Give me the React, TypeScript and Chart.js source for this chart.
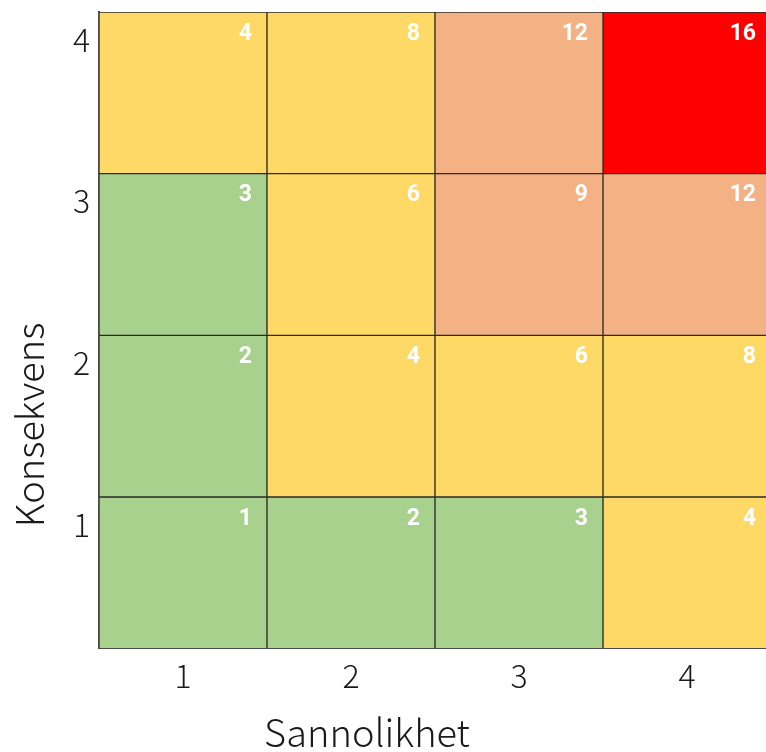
import React, { useEffect, useRef } from "react";
import { Chart, registerables } from "chart.js";

Chart.register(...registerables);

// Sannolikhet (x) and Konsekvens (y) categories
const likelihood = [1, 2, 3, 4];
const consequence = [1, 2, 3, 4];
const xTickLabels = ["1", "2", "3", "4"];
const yTickLabels = ["1", "2", "3", "4"];
// risk value per cell, rows = consequence 1..4, columns = likelihood 1..4
const riskRow1 = [1, 2, 3, 4];
const riskRow2 = [2, 4, 6, 8];
const riskRow3 = [3, 6, 9, 12];
const riskRow4 = [4, 8, 12, 16];
const riskRows = [riskRow1, riskRow2, riskRow3, riskRow4];
const xTitle = "Sannolikhet";
const yTitle = "Konsekvens";

function riskColor(v: number): string {
  if (v <= 3) return "#A9D18E";
  if (v <= 8) return "#FFD966";
  if (v <= 12) return "#F4B183";
  return "#FF0000";
}

const FONT = "'Noto Sans CJK JP', 'Noto Sans', sans-serif";

export default function App() {
  const ref = useRef<HTMLCanvasElement | null>(null);

  useEffect(() => {
    document.body.style.margin = "0";
    const canvas = ref.current!;
    const cells: { x: number; y: [number, number]; v: number }[] = [];
    consequence.forEach((c, j) => {
      likelihood.forEach((l, i) => {
        cells.push({ x: l, y: [c - 1, c], v: riskRows[j][i] });
      });
    });

    const valueLabels = {
      id: "valueLabels",
      afterDatasetsDraw(chart: any) {
        const ctx = chart.ctx;
        const meta = chart.getDatasetMeta(0);
        ctx.save();
        ctx.beginPath();
        ctx.rect(chart.chartArea.left, chart.chartArea.top, chart.chartArea.right - chart.chartArea.left, chart.chartArea.bottom - chart.chartArea.top);
        ctx.clip();
        ctx.fillStyle = "#ffffff";
        ctx.font = `bold 23px Roboto, 'Noto Sans', sans-serif`;
        ctx.textAlign = "right";
        ctx.textBaseline = "middle";
        meta.data.forEach((bar: any, i: number) => {
          const p = bar.getProps(["x", "y", "base", "width"], true);
          const top = Math.min(p.y, p.base);
          const right = p.x + p.width / 2;
          ctx.fillText(String(cells[i].v), right - 15, top + 22);
        });
        ctx.restore();
      },
    };

    const axisTitles = {
      id: "axisTitles",
      afterDraw(chart: any) {
        const ctx = chart.ctx;
        const a = chart.chartArea;
        ctx.save();
        ctx.fillStyle = "#1a1a1a";
        ctx.font = `300 38px ${FONT}`;
        ctx.textAlign = "center";
        ctx.textBaseline = "middle";
        ctx.fillText(xTitle, a.left + 268, 733);
        ctx.translate(30, a.top + 413);
        ctx.rotate(-Math.PI / 2);
        ctx.fillText(yTitle, 0, 0);
        ctx.restore();
      },
    };

    const chart = new Chart(canvas, {
      type: "bar",
      data: {
        datasets: [
          {
            data: cells as any,
            backgroundColor: cells.map((c) => riskColor(c.v)),
            borderColor: "#2b2b2b",
            borderWidth: 1,
            borderSkipped: false,
            barPercentage: 1,
            categoryPercentage: 1,
          },
        ],
      },
      options: {
        responsive: false,
        animation: false,
        layout: { padding: { top: 12, left: 0, right: 0, bottom: 0 } },
        plugins: { legend: { display: false }, tooltip: { enabled: false } },
        scales: {
          x: {
            type: "linear",
            offset: false,
            min: 0.5,
            max: 4.47,
            grid: { display: false, drawTicks: false, offset: false },
            border: { display: true, color: "#4a4a4a", width: 2 },
            afterBuildTicks: (s: any) => {
              s.ticks = likelihood.map((v) => ({ value: v }));
            },
            afterFit: (s: any) => {
              s.height = 104;
              s.paddingLeft = 0;
              s.paddingRight = 0;
            },
            ticks: {
              padding: 9,
              color: "#1a1a1a",
              font: { family: FONT, size: 32, weight: 300 as any },
              callback: (_v: any, i: number) => xTickLabels[i],
            },
          },
          y: {
            type: "linear",
            min: 0.066,
            max: 4,
            grid: { display: false, drawTicks: false },
            border: { display: true, color: "#4a4a4a", width: 2 },
            afterBuildTicks: (s: any) => {
              s.ticks = consequence.map((v) => ({ value: v - 0.17 }));
            },
            afterFit: (s: any) => {
              s.width = 99;
              s.paddingTop = 0;
              s.paddingBottom = 0;
            },
            ticks: {
              padding: 9,
              color: "#1a1a1a",
              font: { family: FONT, size: 32, weight: 300 as any },
              callback: (_v: any, i: number) => yTickLabels[i],
            },
          },
        },
      },
      plugins: [valueLabels, axisTitles],
    });
    return () => chart.destroy();
  }, []);

  return (
    <div style={{ width: 766, height: 752 }}>
      <canvas ref={ref} width={766} height={752} style={{ display: "block" }} />
    </div>
  );
}
